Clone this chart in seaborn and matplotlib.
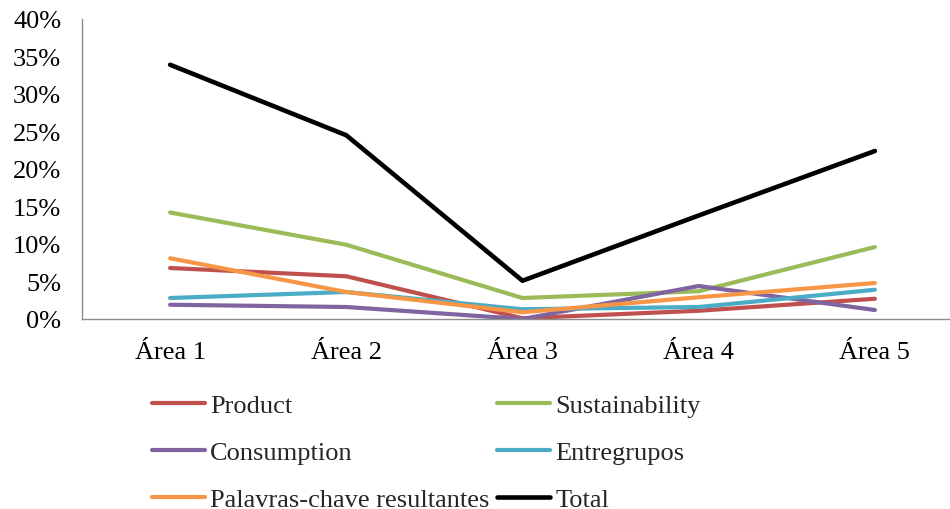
import matplotlib
matplotlib.use("Agg")
import matplotlib.pyplot as plt
from matplotlib.ticker import FuncFormatter
import pandas as pd
import seaborn as sns

# Share of keywords per area, by group (percent)
areas = ["Área 1", "Área 2", "Área 3", "Área 4", "Área 5"]
product = [6.8, 5.7, 0.1, 1.1, 2.7]
sustainability = [14.2, 9.9, 2.8, 3.7, 9.6]
consumption = [1.9, 1.6, 0.0, 4.4, 1.2]
entregrupos = [2.8, 3.6, 1.3, 1.6, 3.9]
palavras = [8.1, 3.6, 0.9, 2.9, 4.8]
total = [33.9, 24.5, 5.1, 13.8, 22.4]

series_names = ["Product", "Sustainability", "Consumption", "Entregrupos",
                "Palavras-chave resultantes", "Total"]
series_values = [product, sustainability, consumption, entregrupos, palavras, total]
colors = ["#C0504D", "#9BBB59", "#8064A2", "#4BACC6", "#F79646", "#000000"]

rows = []
for name, vals in zip(series_names, series_values):
    for area, v in zip(areas, vals):
        rows.append({"Área": area, "Série": name, "Valor": v / 100.0})
df = pd.DataFrame(rows)

sns.set_style("white")
plt.rcParams["font.family"] = ["Liberation Serif", "DejaVu Serif"]
FS = 19

fig = plt.figure(figsize=(9.5, 5.1), dpi=100)
ax = fig.add_axes([82 / 950, 1 - 320 / 510, (963 - 82) / 950, 300 / 510])

sns.lineplot(data=df, x="Área", y="Valor", hue="Série", hue_order=series_names,
             palette=colors, linewidth=3.0, sort=False, legend=False, ax=ax)
for line in ax.get_lines():
    line.set_solid_capstyle("round")
    line.set_solid_joinstyle("round")
ax.get_lines()[-1].set_linewidth(3.3)

ax.set_xlim(-0.5, 4.5)
ax.set_ylim(0, 0.40)
ax.set_yticks([i * 0.05 for i in range(9)])
ax.yaxis.set_major_formatter(FuncFormatter(lambda v, _: f"{round(v * 100)}%"))
ax.set_xlabel("")
ax.set_ylabel("")
ax.tick_params(axis="both", length=0, labelsize=FS, colors="black")
ax.tick_params(axis="y", pad=15)
ax.tick_params(axis="x", pad=16)

for side in ["top", "right"]:
    ax.spines[side].set_visible(False)
for side in ["left", "bottom"]:
    ax.spines[side].set_color("#8c8c8c")
    ax.spines[side].set_linewidth(1.0)

# Legend entries laid out row by row in two columns
lines = ax.get_lines()[:len(series_names)]
order = [0, 2, 4, 1, 3, 5]
fig.legend([lines[i] for i in order], [series_names[i] for i in order],
           ncol=2, loc="upper left",
           bbox_to_anchor=(152 / 950, 1 - 395 / 510), frameon=False,
           fontsize=FS, handlelength=2.0, handletextpad=0.2,
           columnspacing=0.3, labelspacing=0.88, borderpad=0,
           borderaxespad=0)

fig.savefig("out.png", dpi=100)
